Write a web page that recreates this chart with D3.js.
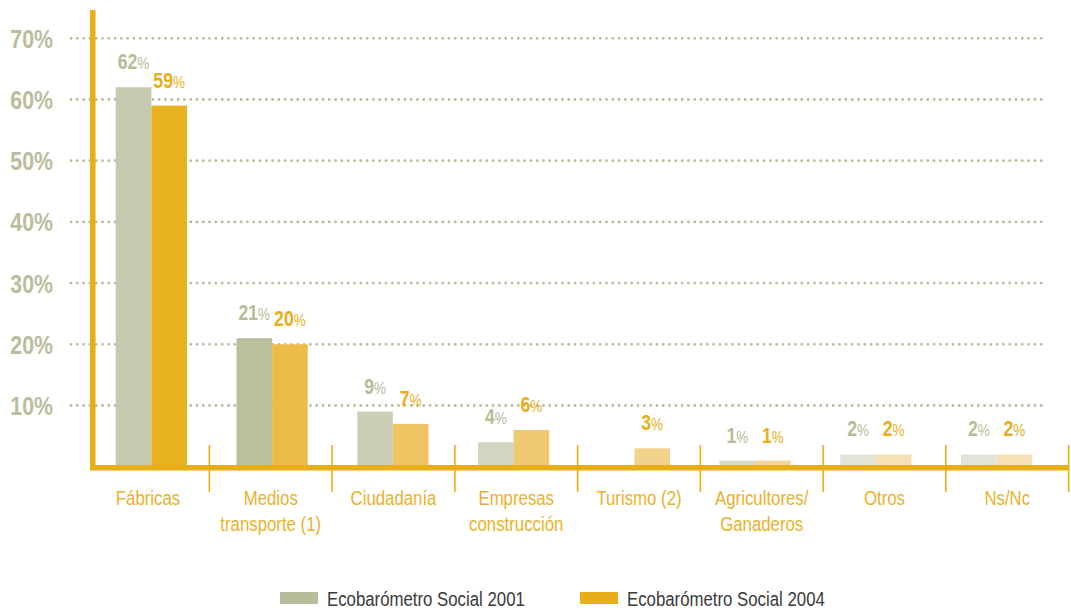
<!DOCTYPE html>
<html>
<head>
<meta charset="utf-8">
<script src="https://cdn.jsdelivr.net/npm/d3@7/dist/d3.min.js"></script>
<style>
  html, body { margin: 0; padding: 0; background: #ffffff; }
  svg { display: block; }
  text { font-family: "Liberation Sans", Arial, sans-serif; }
</style>
</head>
<body>
<svg id="chart" width="1071" height="610"></svg>
<script>
// Categories (line breaks marked with "\n")
const categories = [
  "Fábricas",
  "Medios\ntransporte (1)",
  "Ciudadanía",
  "Empresas\nconstrucción",
  "Turismo (2)",
  "Agricultores/\nGanaderos",
  "Otros",
  "Ns/Nc"
];

// Percentages per survey (null = not asked)
const values2001 = [62, 21, 9, 4, null, 1, 2, 2];
const values2004 = [59, 20, 7, 6, 3, 1, 2, 2];

const seriesNames = ["Ecobarómetro Social 2001", "Ecobarómetro Social 2004"];
const yTicks = [10, 20, 30, 40, 50, 60, 70];

// Bar fills fade from group to group
const fill2001 = ["#c5c9ae", "#babf9c", "#cccfb6", "#d3d5c0", "#d6d9c5", "#d8dbc8", "#e2e4d8", "#e2e4d8"];
const fill2004 = ["#e8b120", "#ecbb48", "#efc462", "#f0c874", "#f3d28b", "#f4d69c", "#f6e0b6", "#f6e0b6"];

const legendFill = ["#b8bc9a", "#e8ae18"];
const gold = "#e8ae18";
const olive = "#b7bb98";
const NARROW = 0.82; // horizontal squeeze for a condensed look

const svg = d3.select("#chart");
const at = (x, yy, k = NARROW) => `translate(${x},${yy}) scale(${k},1)`;

const y = d3.scaleLinear().domain([0, 70]).range([466.7, 38.3]);

// Category slots (labels and separators)
const xCat = d3.scaleBand().domain(d3.range(categories.length)).range([86.6, 1068.6]);

// Bar groups
const xGroup = d3.scaleBand().domain(d3.range(categories.length))
  .range([91, 1057]).paddingInner(0.41).paddingOuter(0.205);
const xSub = d3.scaleBand().domain([0, 1]).range([0, xGroup.bandwidth()]);

// Dotted gridlines
svg.append("g").selectAll("line").data(yTicks).join("line")
  .attr("x1", 71).attr("x2", 1045)
  .attr("y1", d => y(d)).attr("y2", d => y(d))
  .attr("stroke", "#b7bb98")
  .attr("stroke-width", 2.8)
  .attr("stroke-linecap", "round")
  .attr("stroke-dasharray", "0,6.3");

// Y tick labels
svg.append("g").selectAll("text").data(yTicks).join("text")
  .attr("transform", d => at(53, y(d) + 9.5))
  .attr("text-anchor", "end")
  .attr("font-size", 26).attr("font-weight", "bold")
  .attr("fill", "#b9bd9c")
  .text(d => d + "%");

// Bars
const bars = [];
categories.forEach((c, i) => {
  [values2001[i], values2004[i]].forEach((v, s) => {
    if (v != null) bars.push({ i, s, v });
  });
});

svg.append("g").selectAll("rect").data(bars).join("rect")
  .attr("x", d => xGroup(d.i) + xSub(d.s))
  .attr("width", xSub.bandwidth())
  .attr("y", d => y(d.v))
  .attr("height", d => y(0) - y(d.v))
  .attr("fill", d => d.s === 0 ? fill2001[d.i] : fill2004[d.i]);

// Value labels: bold number, lighter smaller percent sign
const vl = svg.append("g").selectAll("text").data(bars).join("text")
  .attr("transform", d => at(xGroup(d.i) + xSub(d.s) + xSub.bandwidth() / 2, y(d.v) - 18))
  .attr("text-anchor", "middle")
  .attr("fill", d => d.s === 0 ? olive : gold);
vl.append("tspan").attr("font-size", 21.5).attr("font-weight", "bold").text(d => d.v);
vl.append("tspan").attr("font-size", 16.5).text("%");

// Axes lines
svg.append("line")
  .attr("x1", 92.8).attr("x2", 92.8).attr("y1", 10).attr("y2", 470)
  .attr("stroke", gold).attr("stroke-width", 5.5);
svg.append("line")
  .attr("x1", 90).attr("x2", 1069).attr("y1", y(0) + 1).attr("y2", y(0) + 1)
  .attr("stroke", gold).attr("stroke-width", 5.5);

// Separators between categories
svg.append("g").selectAll("line").data(d3.range(1, categories.length + 1)).join("line")
  .attr("x1", i => xCat.range()[0] + i * xCat.step())
  .attr("x2", i => xCat.range()[0] + i * xCat.step())
  .attr("y1", 445).attr("y2", 492)
  .attr("stroke", gold).attr("stroke-width", 1.6);

// Category labels
const cl = svg.append("g").selectAll("g").data(categories).join("g");
cl.selectAll("text").data((d, i) => d.split("\n").map(t => ({ t, i }))).join("text")
  .attr("transform", (d, k) => at(xCat(d.i) + xCat.bandwidth() / 2, 505 + k * 25.5, 0.8))
  .attr("text-anchor", "middle")
  .attr("font-size", 21)
  .attr("fill", "#e9b22a")
  .text(d => d.t);

// Legend
const legendX = [280, 580];
const lg = svg.append("g").selectAll("g").data(seriesNames).join("g")
  .attr("transform", (d, i) => `translate(${legendX[i]},592)`);
lg.append("rect").attr("width", 38).attr("height", 12).attr("fill", (d, i) => legendFill[i]);
lg.append("text").attr("transform", at(47, 14, 0.8))
  .attr("font-size", 21).attr("fill", "#3a3a3a")
  .text(d => d);
</script>
</body>
</html>
